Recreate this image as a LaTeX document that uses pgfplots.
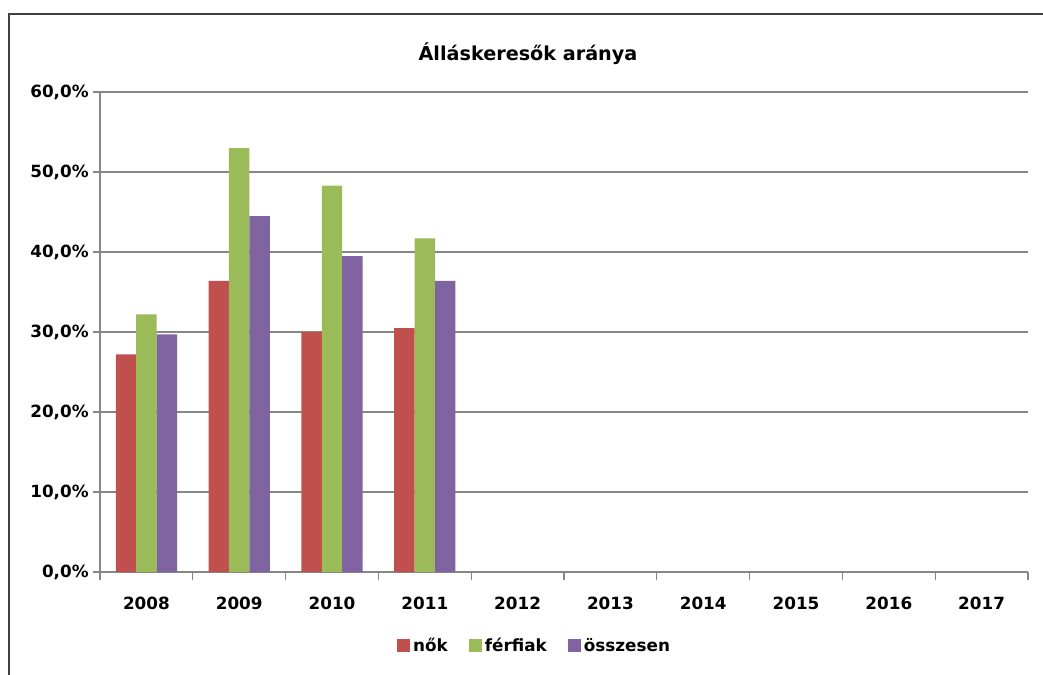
\documentclass[border=0pt]{standalone}
\usepackage{pgfplots}
\pgfplotsset{compat=1.18}
\usepackage{fontspec}
\setmainfont{DejaVu Sans}
\definecolor{cnok}{HTML}{C0504D}
\definecolor{cferf}{HTML}{9BBB59}
\definecolor{cossz}{HTML}{8064A2}
\definecolor{gridc}{HTML}{868686}
\begin{document}
\begin{tikzpicture}
% 1 px of the reference = 0.75pt
\path[use as bounding box] (0,0) rectangle (782.25pt,-506.25pt);
\draw[black!75, line width=1.5pt] (9*0.75pt,-506.25pt) -- (9*0.75pt,-14*0.75pt) -- (782.25pt,-14*0.75pt);
\node[anchor=base, font=\fontsize{14.4}{17}\selectfont\bfseries, inner sep=0pt] at (528*0.75pt,-60*0.75pt) {Álláskeresők aránya};
\begin{axis}[
    at={(100*0.75pt,-572*0.75pt)}, anchor=south west,
    scale only axis,
    width=696pt, height=360pt,
    ybar=0pt, bar width=0.22,
    xmin=-0.5, xmax=9.5,
    ymin=0, ymax=60,
    axis x line*=bottom, axis y line*=left,
    axis line style={gridc, line width=1pt},
    xtick={0,...,9},
    xticklabels={2008,2009,2010,2011,2012,2013,2014,2015,2016,2017},
    major x tick style={draw=none},
    minor xtick={-0.5,0.5,...,9.5},
    minor x tick style={gridc, line width=1pt},
    minor tick length=6pt,
    ytick={0,10,...,60},
    y tick style={gridc, line width=1pt},
    major tick length=5pt,
    tick align=outside,
    ymajorgrids,
    major grid style={gridc, line width=1pt},
    /pgf/number format/assume math mode=true,
    yticklabel={\pgfmathprintnumber[fixed,fixed zerofill,precision=1,use comma]{\tick}\%},
    tick label style={font=\fontsize{12.6}{15}\selectfont\bfseries},
    xticklabel style={yshift=-10pt},
    legend style={at={(0.4688,-0.154)}, anchor=center, draw=none,
        font=\fontsize{12.6}{15}\selectfont\bfseries,
        /tikz/every even column/.append style={column sep=14pt}},
    legend columns=3,
    legend image code/.code={\fill[#1] (0pt,-4.9pt) rectangle (9.8pt,4.9pt);},
]
\addplot[fill=cnok, draw=none] coordinates {(0,27.2) (1,36.4) (2,30.0) (3,30.5)};
\addplot[fill=cferf, draw=none] coordinates {(0,32.2) (1,53.0) (2,48.3) (3,41.7)};
\addplot[fill=cossz, draw=none] coordinates {(0,29.7) (1,44.5) (2,39.5) (3,36.4)};
\legend{nők, férfiak, összesen}
\end{axis}
\end{tikzpicture}
\end{document}
